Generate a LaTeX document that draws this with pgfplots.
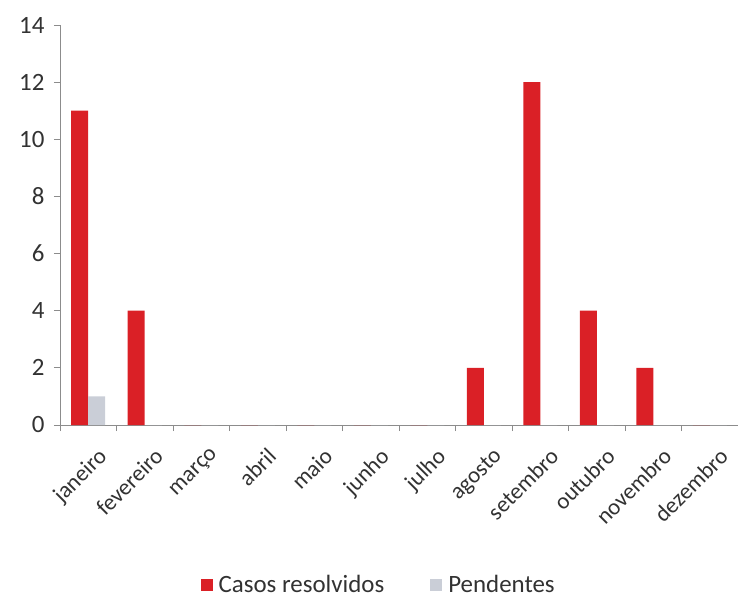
\documentclass[border=0pt]{standalone}
\usepackage{fontspec}
\setmainfont{Carlito}
\usepackage{pgfplots}
\pgfplotsset{compat=1.18}
\definecolor{casored}{RGB}{218,32,38}
\definecolor{pendgray}{RGB}{202,206,215}
\definecolor{axisgray}{RGB}{140,140,140}
\definecolor{txtgray}{RGB}{50,50,50}

\begin{document}
\begin{tikzpicture}
\path[use as bounding box] (-60bp,-175bp) rectangle (678bp,425bp);
\begin{axis}[
  at={(0,0)}, anchor=south west,
  width=678bp, height=400bp, scale only axis,
  ybar=0pt, bar width=17bp,
  xmin=-0.5, xmax=11.5,
  ymin=0, ymax=14,
  ytick={0,2,...,14},
  xtick={-0.5,0.5,...,11.5},
  x tick label as interval,
  xticklabels={janeiro,fevereiro,março,abril,maio,junho,julho,agosto,setembro,outubro,novembro,dezembro},
  x tick label style={rotate=45, anchor=north east, font=\fontsize{23}{26}\selectfont, text=txtgray, inner sep=0bp, yshift=-17bp, xshift=-5bp},
  y tick label style={font=\fontsize{25}{28}\selectfont, text=txtgray, xshift=-6bp},
  /pgf/number format/assume math mode=true,
  axis x line=bottom, axis y line=left,
  axis line style={draw=axisgray, line width=0.8bp, -},
  tick style={draw=axisgray, line width=0.8bp},
  tick align=outside, major tick length=6bp,
  legend columns=2,
  legend style={at={(0.47,-0.40)}, anchor=center, draw=none, fill=none,
    font=\fontsize{25}{28}\selectfont, text=txtgray,
    /tikz/every odd column/.append style={column sep=4bp},
    /tikz/every even column/.append style={column sep=44bp}},
  legend image code/.code={\fill[#1,draw=none] (0bp,-6bp) rectangle (12bp,6bp);},
]
\addplot[fill=casored, draw=none] coordinates {
  (0,11) (1,4) (2,0) (3,0) (4,0) (5,0) (6,0) (7,2) (8,12) (9,4) (10,2) (11,0)
};
\addlegendentry{Casos resolvidos}
\addplot[fill=pendgray, draw=none] coordinates {
  (0,1) (1,0) (2,0) (3,0) (4,0) (5,0) (6,0) (7,0) (8,0) (9,0) (10,0) (11,0)
};
\addlegendentry{Pendentes}
\end{axis}
\end{tikzpicture}
\end{document}
